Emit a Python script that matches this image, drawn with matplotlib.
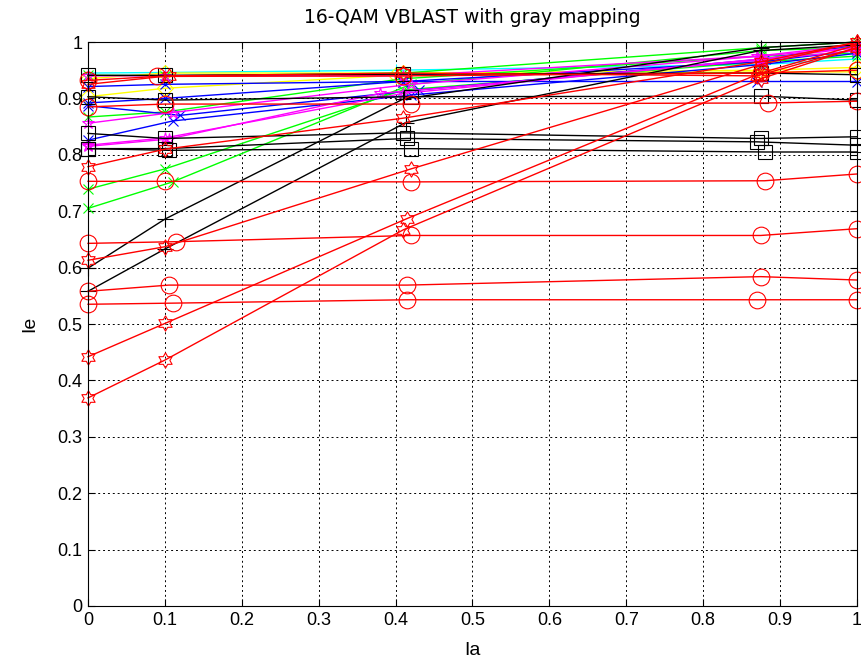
import matplotlib
matplotlib.use("Agg")
import matplotlib.pyplot as plt
from matplotlib.path import Path

plt.rcParams.update({
    "font.family": ["Liberation Sans Narrow", "Liberation Sans", "DejaVu Sans"],
    "font.size": 12,
    "axes.linewidth": 0.8,
    "xtick.direction": "in",
    "ytick.direction": "in",
    "xtick.top": True,
    "ytick.right": True,
})

# ---- EXIT curves: Ia (a priori) vs Ie (extrinsic) ----
# red circles
ia_red_o = [[0, 0.10, 0.42, 0.88, 1.0],
            [0, 0.115, 0.42, 0.875, 1.0],
            [0, 0.105, 0.415, 0.875, 1.0],
            [0, 0.11, 0.415, 0.87, 1.0],
            [0, 0.10, 0.42, 0.885, 1.0],
            [0, 0.09, 0.41, 0.875, 1.0]]
ie_red_o = [[0.753, 0.753, 0.752, 0.754, 0.766],
            [0.643, 0.646, 0.657, 0.657, 0.669],
            [0.558, 0.569, 0.569, 0.584, 0.578],
            [0.535, 0.537, 0.543, 0.543, 0.543],
            [0.885, 0.890, 0.890, 0.892, 0.895],
            [0.932, 0.939, 0.940, 0.945, 0.950]]

# red hexagrams
ia_red_h = [[0, 0.10, 0.41, 0.875, 1.0],
            [0, 0.10, 0.415, 0.875, 1.0],
            [0, 0.10, 0.42, 0.875, 1.0],
            [0, 0.10, 0.41, 0.875, 1.0],
            [0, 0.105, 0.41, 0.87, 1.0]]
ie_red_h = [[0.369, 0.436, 0.667, 0.935, 0.990],
            [0.442, 0.501, 0.687, 0.945, 0.995],
            [0.613, 0.637, 0.775, 0.960, 1.000],
            [0.779, 0.810, 0.865, 0.965, 1.000],
            [0.925, 0.940, 0.945, 0.940, 0.990]]

# black plus
ia_blk_p = [[0, 0.10, 0.41, 0.875, 1.0],
            [0, 0.10, 0.413, 0.875, 1.0]]
ie_blk_p = [[0.599, 0.686, 0.899, 0.990, 1.000],
            [0.558, 0.633, 0.857, 0.985, 0.995]]

# black squares
ia_blk_s = [[0, 0.10, 0.41, 0.875, 1.0],
            [0, 0.10, 0.415, 0.87, 1.0],
            [0, 0.105, 0.42, 0.88, 1.0],
            [0, 0.10, 0.41, 0.875, 1.0],
            [0, 0.10, 0.42, 0.875, 1.0]]
ie_blk_s = [[0.838, 0.829, 0.839, 0.829, 0.832],
            [0.811, 0.811, 0.829, 0.823, 0.817],
            [0.811, 0.808, 0.811, 0.805, 0.805],
            [0.941, 0.941, 0.943, 0.945, 0.942],
            [0.903, 0.897, 0.903, 0.904, 0.897]]

# green crosses
ia_grn_x = [[0, 0.10, 0.41, 0.875, 1.0],
            [0, 0.11, 0.42, 0.875, 1.0],
            [0, 0.10, 0.41, 0.875, 1.0],
            [0, 0.10, 0.41, 0.875, 1.0]]
ie_grn_x = [[0.739, 0.775, 0.915, 0.965, 0.975],
            [0.705, 0.752, 0.925, 0.985, 0.990],
            [0.867, 0.876, 0.935, 0.975, 0.980],
            [0.941, 0.940, 0.945, 0.990, 1.000]]

# blue crosses
ia_blu_x = [[0, 0.10, 0.41, 0.875, 1.0],
            [0, 0.11, 0.42, 0.875, 1.0],
            [0, 0.10, 0.41, 0.87, 1.0],
            [0, 0.12, 0.43, 0.88, 1.0]]
ie_blu_x = [[0.892, 0.900, 0.930, 0.965, 0.985],
            [0.826, 0.860, 0.906, 0.960, 0.980],
            [0.921, 0.925, 0.930, 0.930, 0.930],
            [0.887, 0.870, 0.915, 0.970, 0.995]]

# magenta stars
ia_mag_s = [[0, 0.10, 0.41, 0.875, 1.0],
            [0, 0.11, 0.42, 0.875, 1.0],
            [0, 0.10, 0.41, 0.87, 1.0],
            [0, 0.105, 0.38, 0.875, 1.0]]
ie_mag_s = [[0.817, 0.830, 0.909, 0.970, 0.990],
            [0.856, 0.875, 0.925, 0.975, 0.990],
            [0.940, 0.940, 0.940, 0.975, 0.995],
            [0.815, 0.828, 0.909, 0.968, 0.985]]

# yellow diamonds
ia_yel_d = [[0, 0.10, 0.40, 0.875, 1.0],
            [0, 0.10, 0.41, 0.875, 1.0]]
ie_yel_d = [[0.903, 0.918, 0.941, 0.947, 0.947],
            [0.935, 0.945, 0.945, 0.950, 0.955]]

# cyan
ia_cyn = [[0, 0.10, 0.40, 0.875, 1.0]]
ie_cyn = [[0.945, 0.946, 0.950, 0.960, 0.970]]

tick_labels = ["0", "0.1", "0.2", "0.3", "0.4", "0.5", "0.6", "0.7", "0.8", "0.9", "1"]

# six-pointed star marker
hexagram = Path.unit_regular_star(6, 0.577)

fig = plt.figure(figsize=(8.62, 6.66), dpi=100)
ax = fig.add_axes([0.1021, 0.0901, 0.892, 0.8468])


def draw(ia_list, ie_list, color, marker, ms, mew=0.8):
    for ia, ie in zip(ia_list, ie_list):
        ax.plot(ia, ie, color=color, marker=marker, markersize=ms,
                markerfacecolor="none", markeredgecolor=color,
                markeredgewidth=mew, linewidth=1.0, clip_on=False)


draw(ia_cyn, ie_cyn, "#00ffff", "+", 9)
draw(ia_yel_d, ie_yel_d, "#ffff00", "D", 8)
draw(ia_grn_x, ie_grn_x, "#00ff00", "x", 7)
draw(ia_blu_x, ie_blu_x, "#0000ff", "x", 7)
draw(ia_mag_s, ie_mag_s, "#ff00ff", "*", 9)
draw(ia_blk_s, ie_blk_s, "k", "s", 10)
draw(ia_blk_p, ie_blk_p, "k", "+", 11)
draw(ia_red_o, ie_red_o, "#ff0000", "o", 12)
draw(ia_red_h, ie_red_h, "#ff0000", hexagram, 11)

ax.set_xlim(0, 1)
ax.set_ylim(0, 1)
ax.set_xticks([i / 10 for i in range(11)])
ax.set_yticks([i / 10 for i in range(11)])
ax.set_xticklabels(tick_labels)
ax.set_yticklabels(tick_labels)
ax.tick_params(length=5, width=0.8, labelsize=13, pad=4)
ax.grid(True, color="k", linestyle=(0, (2, 3)), linewidth=0.7)
ax.set_axisbelow(True)

ax.set_title("16-QAM VBLAST with gray mapping", fontsize=13.5,
             family=["DejaVu Sans"], pad=14)
ax.set_xlabel("Ia", fontsize=14, labelpad=10)
ax.set_ylabel("Ie", fontsize=14, labelpad=14)

fig.savefig("out.png", dpi=100)
